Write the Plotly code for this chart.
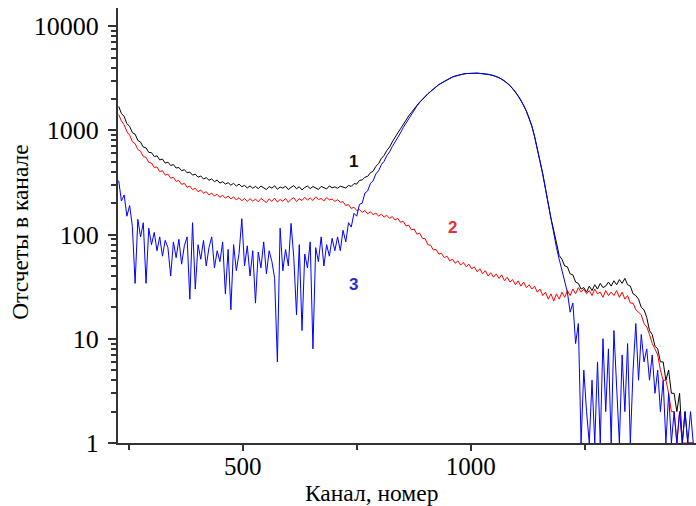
import math
import plotly.graph_objects as go

# Channel numbers (every 6th channel sampled from the spectrum)
channels = list(range(228, 1489, 6))

# Spectrum 1 (black)
counts_1 = [
    1700, 1450, 1360, 1160, 1090, 950, 920, 800, 770, 690,
    680, 615, 610, 560, 570, 520, 530, 485, 495, 460,
    470, 435, 440, 410, 420, 392, 398, 372, 380, 355,
    365, 342, 352, 332, 342, 322, 333, 312, 322, 305,
    315, 298, 310, 292, 305, 288, 296, 280, 293, 278,
    290, 276, 292, 281, 270, 289, 279, 294, 272, 286,
    279, 291, 270, 284, 295, 275, 288, 268, 283, 292,
    276, 289, 280, 271, 290, 282, 274, 293, 281, 287,
    278, 291, 284, 280, 296, 290, 308, 305, 331, 334,
    355, 362, 392, 405, 452, 480, 538, 575, 640, 690,
    775, 845, 945, 1035, 1150, 1245, 1375, 1485, 1620, 1735,
    1865, 2000, 2105, 2250, 2360, 2510, 2615, 2750, 2845, 2965,
    3055, 3170, 3245, 3330, 3385, 3450, 3475, 3510, 3515, 3540,
    3525, 3540, 3515, 3505, 3470, 3455, 3400, 3365, 3285, 3215,
    3100, 2995, 2840, 2705, 2520, 2355, 2140, 1955, 1735, 1530,
    1315, 1105, 875, 685, 505, 385, 275, 205, 142, 110,
    82, 63, 58, 50, 49, 42, 41, 35, 34, 30,
    31, 28, 32, 29, 33, 30, 34, 31, 32, 35,
    32, 36, 33, 37, 34, 38, 33, 32, 27, 26,
    24, 20, 19, 16, 12, 11, 8.5, 8, 6, 6,
    4, 5, 3, 3, 2, 3, 1, 2, 1, 1,
    1,
]

# Spectrum 2 (red)
counts_2 = [
    1420, 1230, 1130, 970, 900, 780, 745, 655, 630, 560,
    552, 492, 486, 440, 445, 402, 410, 372, 380, 348,
    354, 324, 330, 303, 310, 284, 292, 270, 278, 258,
    268, 249, 258, 240, 250, 234, 244, 228, 238, 224,
    234, 220, 230, 215, 226, 211, 222, 208, 221, 209,
    219, 206, 222, 210, 203, 220, 208, 224, 205, 217,
    209, 222, 204, 218, 226, 207, 221, 212, 228, 214,
    225, 212, 230, 217, 222, 210, 227, 215, 219, 208,
    216, 204, 207, 190, 194, 178, 183, 170, 174, 163,
    170, 158, 166, 155, 161, 150, 157, 147, 153, 143,
    149, 138, 143, 131, 134, 121, 123, 111, 113, 101,
    103, 92, 91, 80, 79, 71, 72, 65, 66, 60,
    62, 56, 58, 53, 56, 51, 54, 49, 52, 47,
    49, 44, 47, 42, 45, 40, 43, 39, 42, 38,
    41, 36, 39, 35, 37, 33, 36, 32, 35, 31,
    33, 30, 32, 28, 30, 26, 28, 24, 27, 23,
    27, 24, 28, 25, 29, 26, 30, 27, 31, 28,
    30, 27, 29, 26, 30, 27, 28, 25, 29, 26,
    28, 26, 29, 25, 28, 24, 26, 22, 22, 19,
    18, 17, 14, 13, 11, 9, 8, 7, 5, 4,
    4, 3, 2, 2, 1, 2, 1, 1, 1, 1,
    1,
]

# Spectrum 3 (blue)
counts_3 = [
    330, 210, 240, 150, 190, 120, 34, 140, 95, 130,
    34, 115, 80, 105, 70, 95, 62, 88, 75, 40,
    85, 60, 90, 52, 78, 95, 24, 130, 30, 80,
    58, 88, 50, 75, 95, 48, 70, 55, 85, 27,
    72, 19, 80, 45, 66, 142, 50, 78, 40, 70,
    22, 68, 48, 85, 42, 70, 55, 38, 6, 115,
    45, 72, 50, 128, 60, 17, 80, 12, 65, 48,
    85, 8, 75, 55, 95, 50, 80, 62, 92, 70,
    95, 70, 110, 85, 130, 118, 160, 150, 195, 200,
    250, 262, 310, 328, 382, 410, 468, 505, 572, 620,
    700, 770, 865, 945, 1065, 1175, 1315, 1435, 1585, 1715,
    1850, 1985, 2100, 2235, 2365, 2500, 2620, 2740, 2850, 2960,
    3050, 3160, 3250, 3320, 3390, 3440, 3480, 3505, 3520, 3530,
    3530, 3535, 3520, 3500, 3475, 3450, 3405, 3360, 3290, 3210,
    3105, 2990, 2845, 2700, 2525, 2350, 2145, 1950, 1740, 1525,
    1310, 1095, 870, 675, 500, 375, 270, 195, 138, 100,
    75, 58, 45, 36, 28, 18, 22, 9, 14, 1,
    5, 2, 1, 4, 1, 6, 1, 10, 2, 8,
    1, 12, 3, 1, 7, 2, 9, 1, 5, 14,
    4, 11, 6, 8, 4, 7, 3, 5, 2, 4,
    1, 3, 1, 2, 1, 2, 1, 2, 1, 2,
    1,
]

assert len(channels) == len(counts_1) == len(counts_2) == len(counts_3), (
    len(channels), len(counts_1), len(counts_2), len(counts_3))

curve_labels = ["1", "2", "3"]
label_x = [742, 959, 744]
label_y = [507, 117, 33]
label_colors = ["#111111", "#e3303a", "#2b2bd0"]

y_tickvals = [1, 10, 100, 1000, 10000]
y_ticktext = ["1", "10", "100", "1000", "10000"]
y_minor = [m * d for d in (1, 10, 100, 1000) for m in range(2, 10)]
x_tickvals = [500, 1000]
x_minor = [250, 750, 1250]

fig = go.Figure()
fig.add_trace(go.Scatter(x=channels, y=counts_1, mode="lines",
                         line=dict(color="#000000", width=1)))
fig.add_trace(go.Scatter(x=channels, y=counts_2, mode="lines",
                         line=dict(color="#ff0000", width=1)))
fig.add_trace(go.Scatter(x=channels, y=counts_3, mode="lines",
                         line=dict(color="#0000ff", width=1)))

for t, xv, yv, c in zip(curve_labels, label_x, label_y, label_colors):
    # annotation y on a log axis is given as log10 of the value
    fig.add_annotation(x=xv, y=math.log10(yv), text="<b>%s</b>" % t,
                       showarrow=False, xanchor="center", yanchor="middle",
                       font=dict(family="Liberation Sans", size=17, color=c))

axis_col = "#333333"
fig.update_layout(
    width=696, height=506,
    margin=dict(l=118, r=0, t=8, b=63),
    paper_bgcolor="white", plot_bgcolor="white",
    showlegend=False,
    font=dict(family="Liberation Serif", size=25, color="black"),
    xaxis=dict(
        range=[226.5, 1494], showgrid=False, zeroline=False,
        showline=True, linecolor=axis_col, linewidth=2,
        tickmode="array", tickvals=x_tickvals, ticks="outside",
        ticklen=6, tickwidth=2, tickcolor=axis_col,
        ticklabelstandoff=-6,
        tickfont=dict(family="Liberation Serif", size=25),
        minor=dict(tickmode="array", tickvals=x_minor, ticks="outside",
                   ticklen=5, tickwidth=2, tickcolor=axis_col, showgrid=False),
    ),
    yaxis=dict(
        type="log", range=[0, 4.174], showgrid=False, zeroline=False,
        showline=True, linecolor=axis_col, linewidth=2,
        tickmode="array", tickvals=y_tickvals, ticktext=y_ticktext,
        ticks="outside", ticklen=8, tickwidth=2, tickcolor=axis_col,
        ticklabelstandoff=4,
        tickfont=dict(family="Liberation Serif", size=26),
        minor=dict(tickmode="array", tickvals=y_minor, ticks="outside",
                   ticklen=5, tickwidth=1.5, tickcolor=axis_col, showgrid=False),
    ),
)

fig.add_annotation(x=-0.17, y=0.485, xref="paper", yref="paper",
                   xanchor="center", yanchor="middle",
                   text="Отсчеты в канале", textangle=-90, showarrow=False,
                   font=dict(family="Liberation Serif", size=23.5, color="black"))
fig.add_annotation(x=0.439, y=-0.115, xref="paper", yref="paper",
                   xanchor="center", yanchor="middle",
                   text="Канал, номер", showarrow=False,
                   font=dict(family="Liberation Serif", size=23.5, color="black"))

fig.write_html("out.html")
